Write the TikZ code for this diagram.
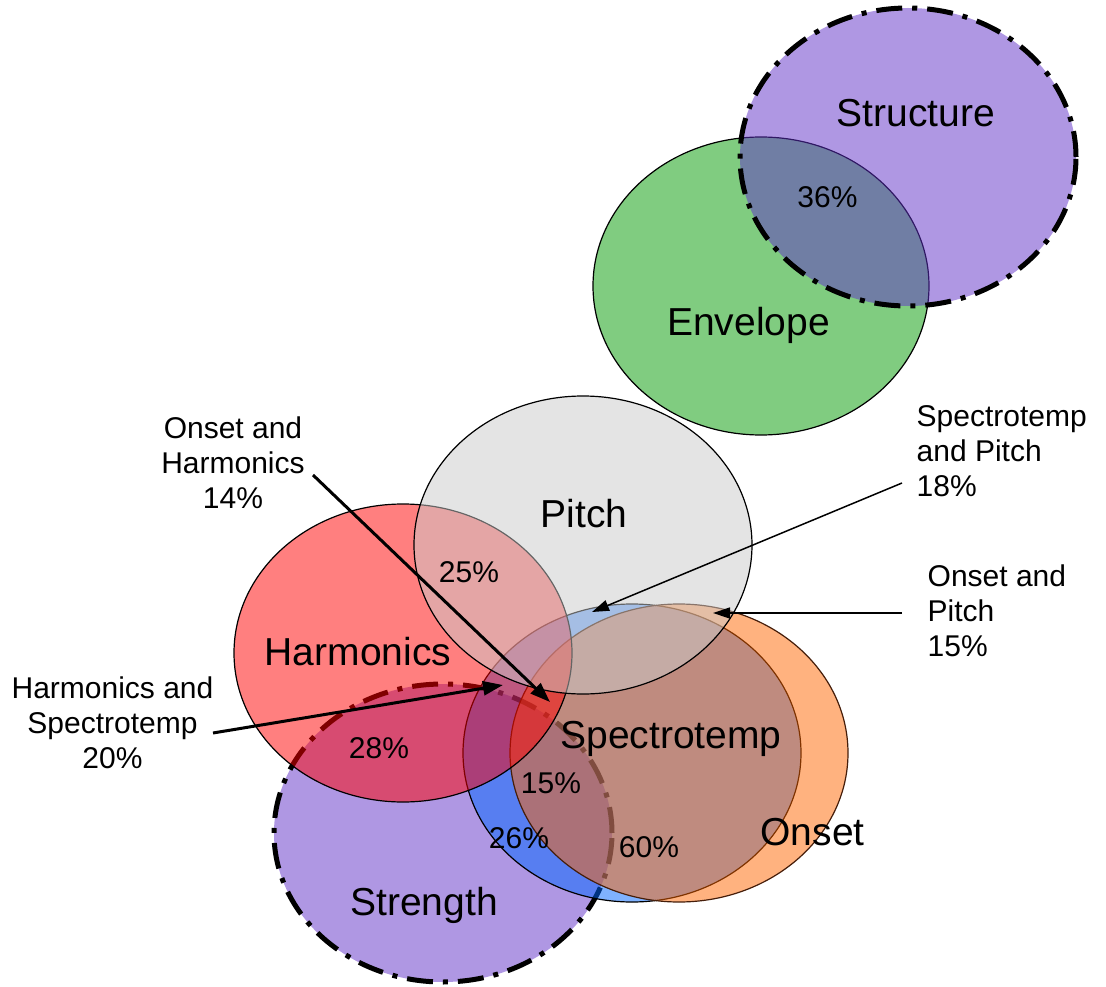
\documentclass[tikz,border=0pt]{standalone}
\usepackage{fontspec}
\setmainfont{Liberation Sans}
\usetikzlibrary{shapes.geometric,arrows.meta}
\definecolor{envgreen}{RGB}{128,204,128}
\definecolor{purp}{RGB}{97,49,201}
\definecolor{pitchgray}{RGB}{203,203,203}
\definecolor{specblue}{RGB}{0,102,255}
\definecolor{onsetorange}{RGB}{255,102,0}
\definecolor{harmred}{RGB}{255,0,0}
\definecolor{onsetline}{RGB}{70,30,10}
\tikzset{
  venn/.style={ellipse, draw=black, line width=1.2pt, fill opacity=0.5,
    minimum width=338pt, minimum height=298pt, inner sep=0pt},
  dashdot/.style={line width=5pt, dash pattern=on 26pt off 10pt on 5pt off 10pt},
  big/.style={font=\fontsize{39}{45}\selectfont, inner sep=0pt, anchor=base},
  pct/.style={font=\fontsize{30}{35}\selectfont, inner sep=0pt, anchor=base},
  note/.style={font=\fontsize{30}{35}\selectfont, inner sep=0pt},
  thickarrow/.style={-{Triangle[length=20pt,width=14pt]}, line width=3pt},
  thinarrow/.style={-{Triangle[length=17pt,width=11pt]}, line width=1.5pt}
}
\begin{document}
\begin{tikzpicture}[x=1pt,y=-1pt]
\useasboundingbox (0,0) rectangle (1106,987);
\fill[white] (0,0) rectangle (1106,987);

% upper pair
\node[venn, fill=envgreen, fill opacity=1, minimum width=336pt] (envelope) at (761,286) {};
\node[venn, fill=purp, dashdot, minimum width=336pt] (structure) at (908,157) {};

% lower cluster
\node[venn, fill=purp, dashdot] (strength) at (443,833) {};
\node[venn, fill=specblue] (spectro) at (632,753) {};
\node[venn, fill=onsetorange, draw=onsetline] (onset) at (679,753) {};
\node[venn, fill=harmred] (harm) at (403,653) {};
\node[venn, fill=pitchgray] (pitch) at (583,545) {};

% set labels
\node[big] (lstructure) at (916,127) {Structure};
\node[big] (lenvelope) at (748.5,335) {Envelope};
\node[big] (lpitch) at (584,527) {Pitch};
\node[big] (lharm) at (358,665) {Harmonics};
\node[big] (lspec) at (671,748) {Spectrotemp};
\node[big] (lonset) at (812.5,845) {Onset};
\node[big] (lstrength) at (424,915) {Strength};

% percentages
\node[pct] (p36) at (827.5,208) {36\%};
\node[pct] (p25) at (469,582) {25\%};
\node[pct] (p28) at (379,758) {28\%};
\node[pct] (p15) at (551,793) {15\%};
\node[pct] (p26) at (519,848) {26\%};
\node[pct] (p60) at (649,857) {60\%};

% annotations
\node[note, align=center, anchor=north] (noh) at (233,417) {Onset and\\Harmonics\\14\%};
\node[note, align=center, anchor=north] (nhs) at (112.5,676.5) {Harmonics and\\Spectrotemp\\20\%};
\node[note, align=left, anchor=north west] (nsp) at (916.5,405) {Spectrotemp\\and Pitch\\18\%};
\node[note, align=left, anchor=north west] (nop) at (927.5,565) {Onset and\\Pitch\\15\%};

% arrow end points
\coordinate (aoh) at (313,475);
\coordinate (toh) at (550,702);
\coordinate (ahs) at (213,733);
\coordinate (ths) at (503,685);
\coordinate (asp) at (902,483);
\coordinate (tsp) at (592,612);
\coordinate (aop) at (902,613);
\coordinate (top) at (713,613);

\draw[thickarrow] (aoh) -- (toh);
\draw[thickarrow] (ahs) -- (ths);
\draw[thinarrow] (asp) -- (tsp);
\draw[thinarrow] (aop) -- (top);
\end{tikzpicture}
\end{document}
